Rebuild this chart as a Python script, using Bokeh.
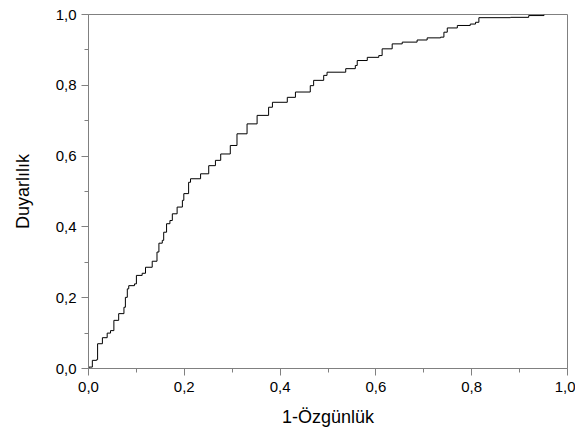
from bokeh.plotting import figure
from bokeh.models import Range1d, FixedTicker
from bokeh.embed import file_html
from bokeh.resources import INLINE

# ROC curve readings (1-specificity, sensitivity)
fpr = [0.0, 0.001, 0.008, 0.017, 0.019, 0.029, 0.039, 0.046, 0.053, 0.063,
       0.074, 0.077, 0.081, 0.084, 0.096, 0.100, 0.112, 0.119, 0.133, 0.143,
       0.147, 0.154, 0.157, 0.163, 0.170, 0.175, 0.185, 0.196, 0.199, 0.209,
       0.213, 0.234, 0.251, 0.265, 0.276, 0.296, 0.310, 0.331, 0.352, 0.376,
       0.384, 0.415, 0.432, 0.463, 0.470, 0.491, 0.498, 0.537, 0.557, 0.561,
       0.582, 0.606, 0.613, 0.634, 0.655, 0.686, 0.707, 0.735, 0.742, 0.749,
       0.770, 0.797, 0.808, 0.815, 0.881, 0.919, 0.951]
tpr = [0.0, 0.004, 0.023, 0.025, 0.070, 0.087, 0.100, 0.107, 0.136, 0.155,
       0.173, 0.201, 0.225, 0.234, 0.239, 0.263, 0.269, 0.286, 0.303, 0.329,
       0.354, 0.362, 0.385, 0.409, 0.418, 0.437, 0.456, 0.475, 0.494, 0.526,
       0.536, 0.550, 0.573, 0.588, 0.606, 0.630, 0.663, 0.691, 0.715, 0.738,
       0.752, 0.766, 0.781, 0.799, 0.814, 0.828, 0.837, 0.847, 0.856, 0.870,
       0.879, 0.884, 0.903, 0.917, 0.922, 0.928, 0.934, 0.936, 0.950, 0.962,
       0.969, 0.973, 0.978, 0.991, 0.992, 0.997, 1.0]

tick_values = [0.0, 0.2, 0.4, 0.6, 0.8, 1.0]
tick_labels = ["0,0", "0,2", "0,4", "0,6", "0,8", "1,0"]
minor_values = [0.1, 0.3, 0.5, 0.7, 0.9]

x_title = "1-Özgünlük"
y_title = "Duyarlılık"

FONT = "Liberation Sans"
GRAY = "#808080"

p = figure(width=575, height=430, output_backend="svg", toolbar_location=None,
           x_range=Range1d(0, 1), y_range=Range1d(0, 1),
           min_border_left=88, min_border_right=8, min_border_top=14, min_border_bottom=62)

p.step(fpr, tpr, mode="after", line_color="black", line_width=1)

p.grid.visible = False
p.outline_line_color = GRAY
p.outline_line_width = 1
p.background_fill_color = "white"
p.border_fill_color = "white"

for ax in (p.xaxis[0], p.yaxis[0]):
    ax.ticker = FixedTicker(ticks=tick_values, minor_ticks=minor_values)
    ax.major_label_overrides = dict(zip(tick_values, tick_labels))
    ax.axis_line_color = GRAY
    ax.major_tick_line_color = GRAY
    ax.minor_tick_line_color = GRAY
    ax.major_tick_in = 0
    ax.major_tick_out = 7
    ax.minor_tick_in = 0
    ax.minor_tick_out = 4
    ax.major_label_text_font = FONT
    ax.major_label_text_font_size = "15px"
    ax.major_label_text_color = "black"
    ax.axis_label_text_font = FONT
    ax.axis_label_text_font_size = "18px"
    ax.axis_label_text_font_style = "normal"
    ax.axis_label_text_color = "black"

p.xaxis.axis_label = x_title
p.yaxis.axis_label = y_title
p.xaxis.major_label_standoff = 6
p.yaxis.major_label_standoff = 5
p.xaxis.axis_label_standoff = 12
p.yaxis.axis_label_standoff = 20

open("out.html", "w").write(file_html(p, INLINE))
